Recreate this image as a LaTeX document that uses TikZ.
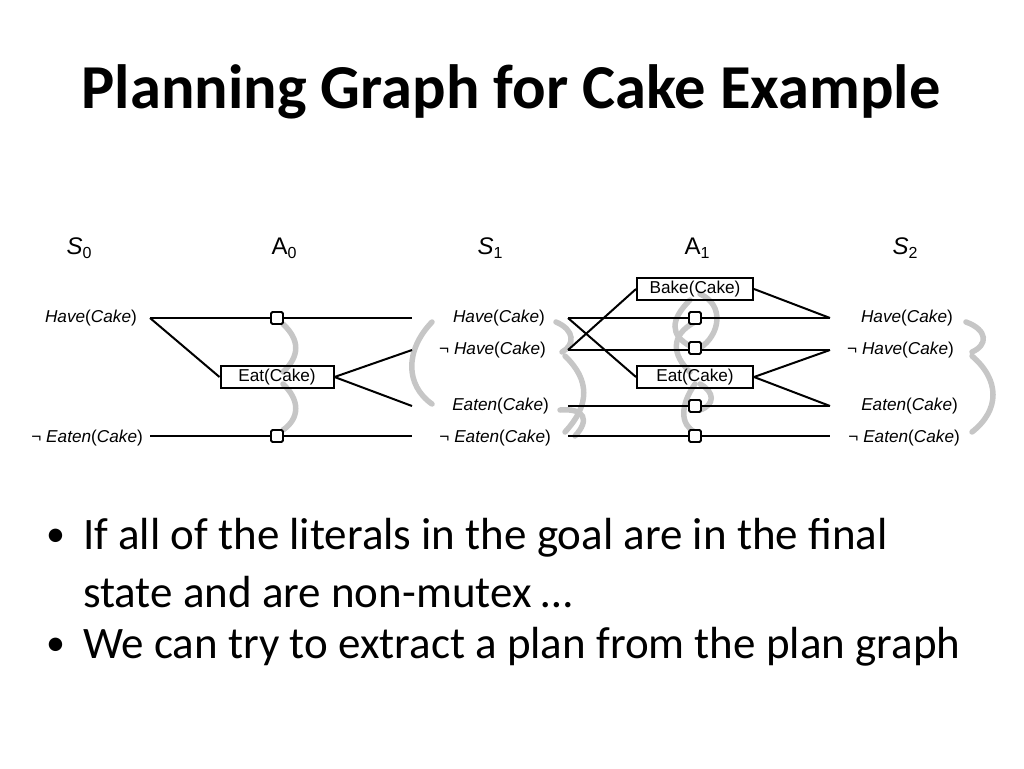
\documentclass[tikz,border=0pt]{standalone}
\usepackage{fontspec}
\setmainfont{Carlito}
\newfontfamily\dg{Liberation Sans}
\newcommand{\sbs}[1]{\raisebox{-4pt}{\fontsize{16}{18}\selectfont\upshape #1}}
\begin{document}
\begin{tikzpicture}[x=1pt,y=-1pt,
  lit/.style={font=\dg\fontsize{17.2}{19}\selectfont,inner sep=0pt},
  hdr/.style={font=\dg\fontsize{24}{26}\selectfont,inner sep=0pt},
  act/.style={draw,line width=2pt,font=\dg\fontsize{17.2}{19}\selectfont,minimum width=116pt,minimum height=22pt,inner sep=0pt},
  pers/.style={draw,line width=1.8pt,fill=white,minimum size=12pt,inner sep=0pt,rounded corners=1.5pt},
  ln/.style={line width=2pt},
  mx/.style={line width=5.5pt,gray!45,line cap=round},
  bul/.style={anchor=west,font=\fontsize{45}{54}\selectfont,inner sep=0pt}]
\useasboundingbox (0,0) rectangle (1024,768);
\node[font=\bfseries\fontsize{62.5}{70}\selectfont] (title) at (511,92) {Planning Graph for Cake Example};
% headers
\node[hdr] (h0) at (79,248) {\textit{S}\sbs{0}};
\node[hdr] (h1) at (284,248) {A\sbs{0}};
\node[hdr] (h2) at (490,248) {\textit{S}\sbs{1}};
\node[hdr] (h3) at (697,248) {A\sbs{1}};
\node[hdr] (h4) at (905,248) {\textit{S}\sbs{2}};
% mutex arcs (behind)
\draw[mx] (283,324) .. controls (300,340) and (300,356) .. (283,372);
\draw[mx] (283,384) .. controls (300,400) and (300,418) .. (283,430);
\draw[mx] (432,322) .. controls (405,350) and (405,385) .. (432,404);
\draw[mx] (556,322) .. controls (575,330) and (575,345) .. (562,352);
\draw[mx] (565,356) .. controls (590,380) and (590,405) .. (565,432);
\draw[mx] (560,410) .. controls (585,408) and (590,420) .. (575,436);
\draw[mx] (700,294) .. controls (725,305) and (720,335) .. (700,348);
\draw[mx] (690,300) .. controls (670,320) and (670,335) .. (690,346);
\draw[mx] (695,322) .. controls (670,335) and (672,355) .. (690,372);
\draw[mx] (700,384) .. controls (715,392) and (715,405) .. (700,410);
\draw[mx] (695,384) .. controls (680,405) and (680,425) .. (695,432);
\draw[mx] (966,322) .. controls (988,330) and (988,345) .. (972,352);
\draw[mx] (972,356) .. controls (1000,380) and (1000,410) .. (972,432);
% S0
\node[lit,anchor=east] (s0a) at (137,318) {\textit{Have}(\textit{Cake})};
\node[lit,anchor=east] (s0b) at (143,438) {¬ \textit{Eaten}(\textit{Cake})};
\coordinate (s0ar) at (150,318); \coordinate (s0br) at (150,436);
% S1
\node[lit,anchor=east] (s1a) at (545,318) {\textit{Have}(\textit{Cake})};
\node[lit,anchor=east] (s1b) at (546,350) {¬ \textit{Have}(\textit{Cake})};
\node[lit,anchor=east] (s1c) at (549,406) {\textit{Eaten}(\textit{Cake})};
\node[lit,anchor=east] (s1d) at (551,438) {¬ \textit{Eaten}(\textit{Cake})};
\coordinate (s1al) at (412,318); \coordinate (s1bl) at (412,350);
\coordinate (s1cl) at (412,406); \coordinate (s1dl) at (412,436);
\coordinate (s1ar) at (568,318); \coordinate (s1br) at (568,350);
\coordinate (s1cr) at (568,406); \coordinate (s1dr) at (568,436);
% S2
\node[lit,anchor=east] (s2a) at (953,318) {\textit{Have}(\textit{Cake})};
\node[lit,anchor=east] (s2b) at (954,350) {¬ \textit{Have}(\textit{Cake})};
\node[lit,anchor=east] (s2c) at (958,406) {\textit{Eaten}(\textit{Cake})};
\node[lit,anchor=east] (s2d) at (960,438) {¬ \textit{Eaten}(\textit{Cake})};
\coordinate (s2al) at (830,318); \coordinate (s2bl) at (830,350);
\coordinate (s2cl) at (830,406); \coordinate (s2dl) at (830,436);
% A0
\node[act,minimum width=113pt] (eat0) at (277,377) {Eat(Cake)};
\draw[ln] (s0ar) -- (s1al); \draw[ln] (s0br) -- (s1dl);
\draw[ln] (s0ar) -- (eat0.west); \draw[ln] (eat0.east) -- (s1bl); \draw[ln] (eat0.east) -- (s1cl);
\node[pers] (p0a) at (277,318) {}; \node[pers] (p0b) at (277,436) {};
% A1
\node[act] (bake1) at (695,289) {Bake(Cake)};
\node[act] (eat1) at (695,377) {Eat(Cake)};
\draw[ln] (s1ar) -- (s2al); \draw[ln] (s1br) -- (s2bl);
\draw[ln] (s1cr) -- (s2cl); \draw[ln] (s1dr) -- (s2dl);
\draw[ln] (s1ar) -- (eat1.west); \draw[ln] (s1br) -- (bake1.west);
\draw[ln] (bake1.east) -- (s2al);
\draw[ln] (eat1.east) -- (s2bl); \draw[ln] (eat1.east) -- (s2cl);
\node[pers] (p1a) at (695,318) {}; \node[pers] (p1b) at (695,348) {};
\node[pers] (p1c) at (695,406) {}; \node[pers] (p1d) at (695,436) {};
% bullets
\node[bul] (d1) at (46,538) {\fontsize{38}{38}\selectfont •};
\node[bul] (b1) at (83,538) {If all of the literals in the goal are in the final};
\node[bul] (b1b) at (83,592) {state and are non-mutex …};
\node[bul] (d2) at (46,647) {\fontsize{38}{38}\selectfont •};
\node[bul] (b2) at (83,647) {We can try to extract a plan from the plan graph};
\end{tikzpicture}
\end{document}
